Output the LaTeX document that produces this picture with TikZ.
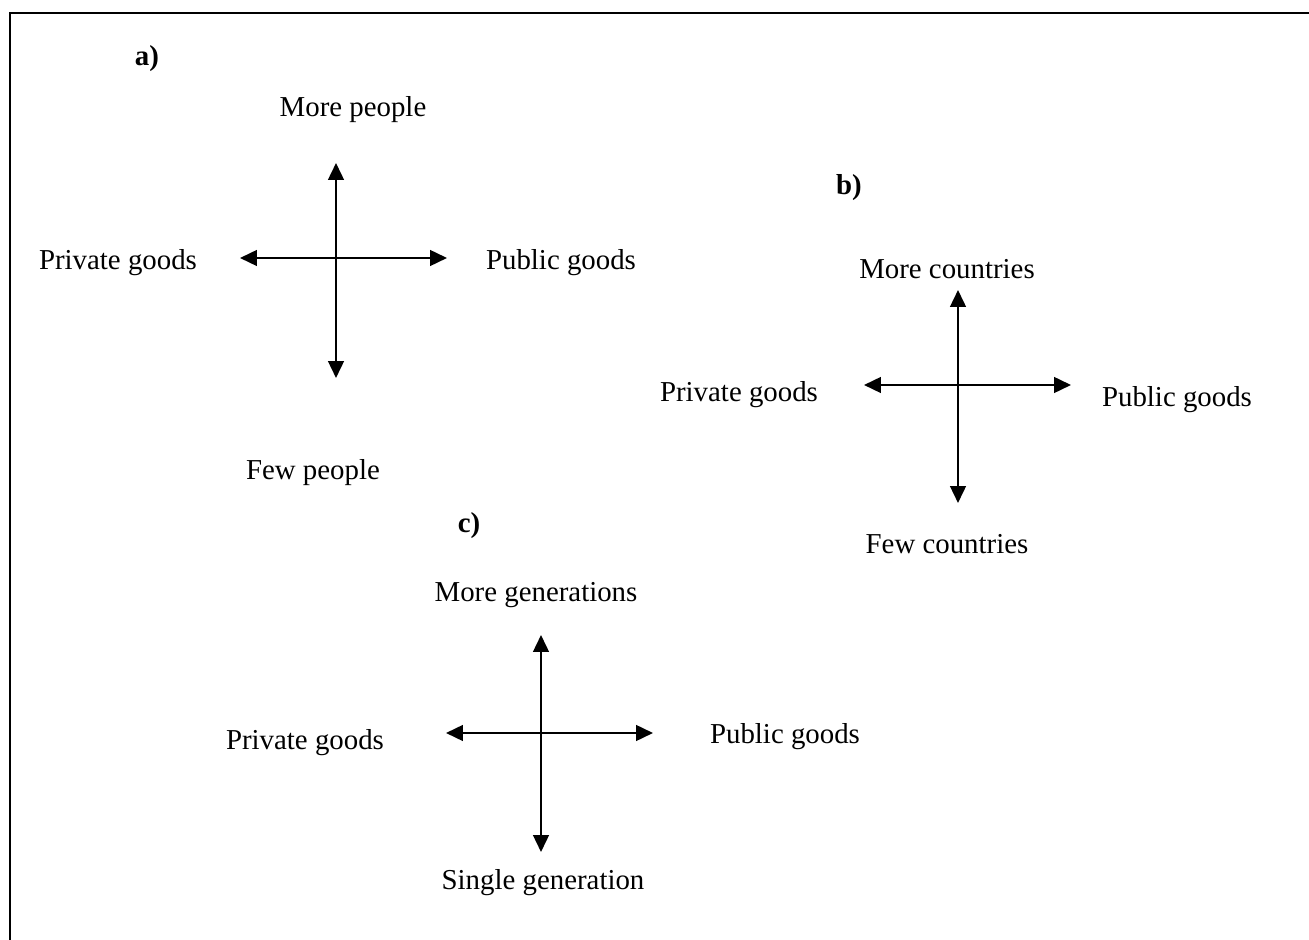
\documentclass[tikz,border=0pt]{standalone}
\usepackage{fontspec}
\setmainfont{Liberation Serif}
\usepackage{tikz}
\usetikzlibrary{arrows.meta}

\begin{document}
\begin{tikzpicture}[x=0.01462cm,y=-0.01462cm,
  every node/.style={font=\fontsize{12}{14}\selectfont,inner sep=0pt},
  axis/.style={line width=0.9pt,{Triangle[length=7pt,width=6.5pt]}-{Triangle[length=7pt,width=6.5pt]}},
  tag/.style={font=\fontsize{12}{14}\selectfont\bfseries}]
\useasboundingbox (0,0) rectangle (1309,940);
\draw[line width=0.9pt] (10,945) -- (10,13) -- (1315,13); %
% a)
\node[tag] (tagA) at (147,59) {a)};
\node (moreA) at (353,110) {More people};
\node (fewA) at (313,473) {Few people};
\node (privA) at (118,263) {Private goods};
\node (pubA) at (561,263) {Public goods};
\coordinate (nA) at (336,163); \coordinate (sA) at (336,378);
\coordinate (wA) at (240,258); \coordinate (eA) at (447,258);
\draw[axis] (nA) -- (sA);
\draw[axis] (wA) -- (eA);
% b)
\node[tag] (tagB) at (849,188) {b)};
\node (moreB) at (947,269) {More countries};
\node (fewB) at (947,544) {Few countries};
\node (privB) at (739,395) {Private goods};
\node (pubB) at (1177,400) {Public goods};
\coordinate (nB) at (958,290); \coordinate (sB) at (958,503);
\coordinate (wB) at (864,385); \coordinate (eB) at (1071,385);
\draw[axis] (nB) -- (sB);
\draw[axis] (wB) -- (eB);
% c)
\node[tag] (tagC) at (469,526) {c)};
\node (moreC) at (536,595) {More generations};
\node (fewC) at (543,883) {Single generation};
\node (privC) at (305,743) {Private goods};
\node (pubC) at (785,737) {Public goods};
\coordinate (nC) at (541,635); \coordinate (sC) at (541,852);
\coordinate (wC) at (446,733); \coordinate (eC) at (653,733);
\draw[axis] (nC) -- (sC);
\draw[axis] (wC) -- (eC);
\end{tikzpicture}
\end{document}
